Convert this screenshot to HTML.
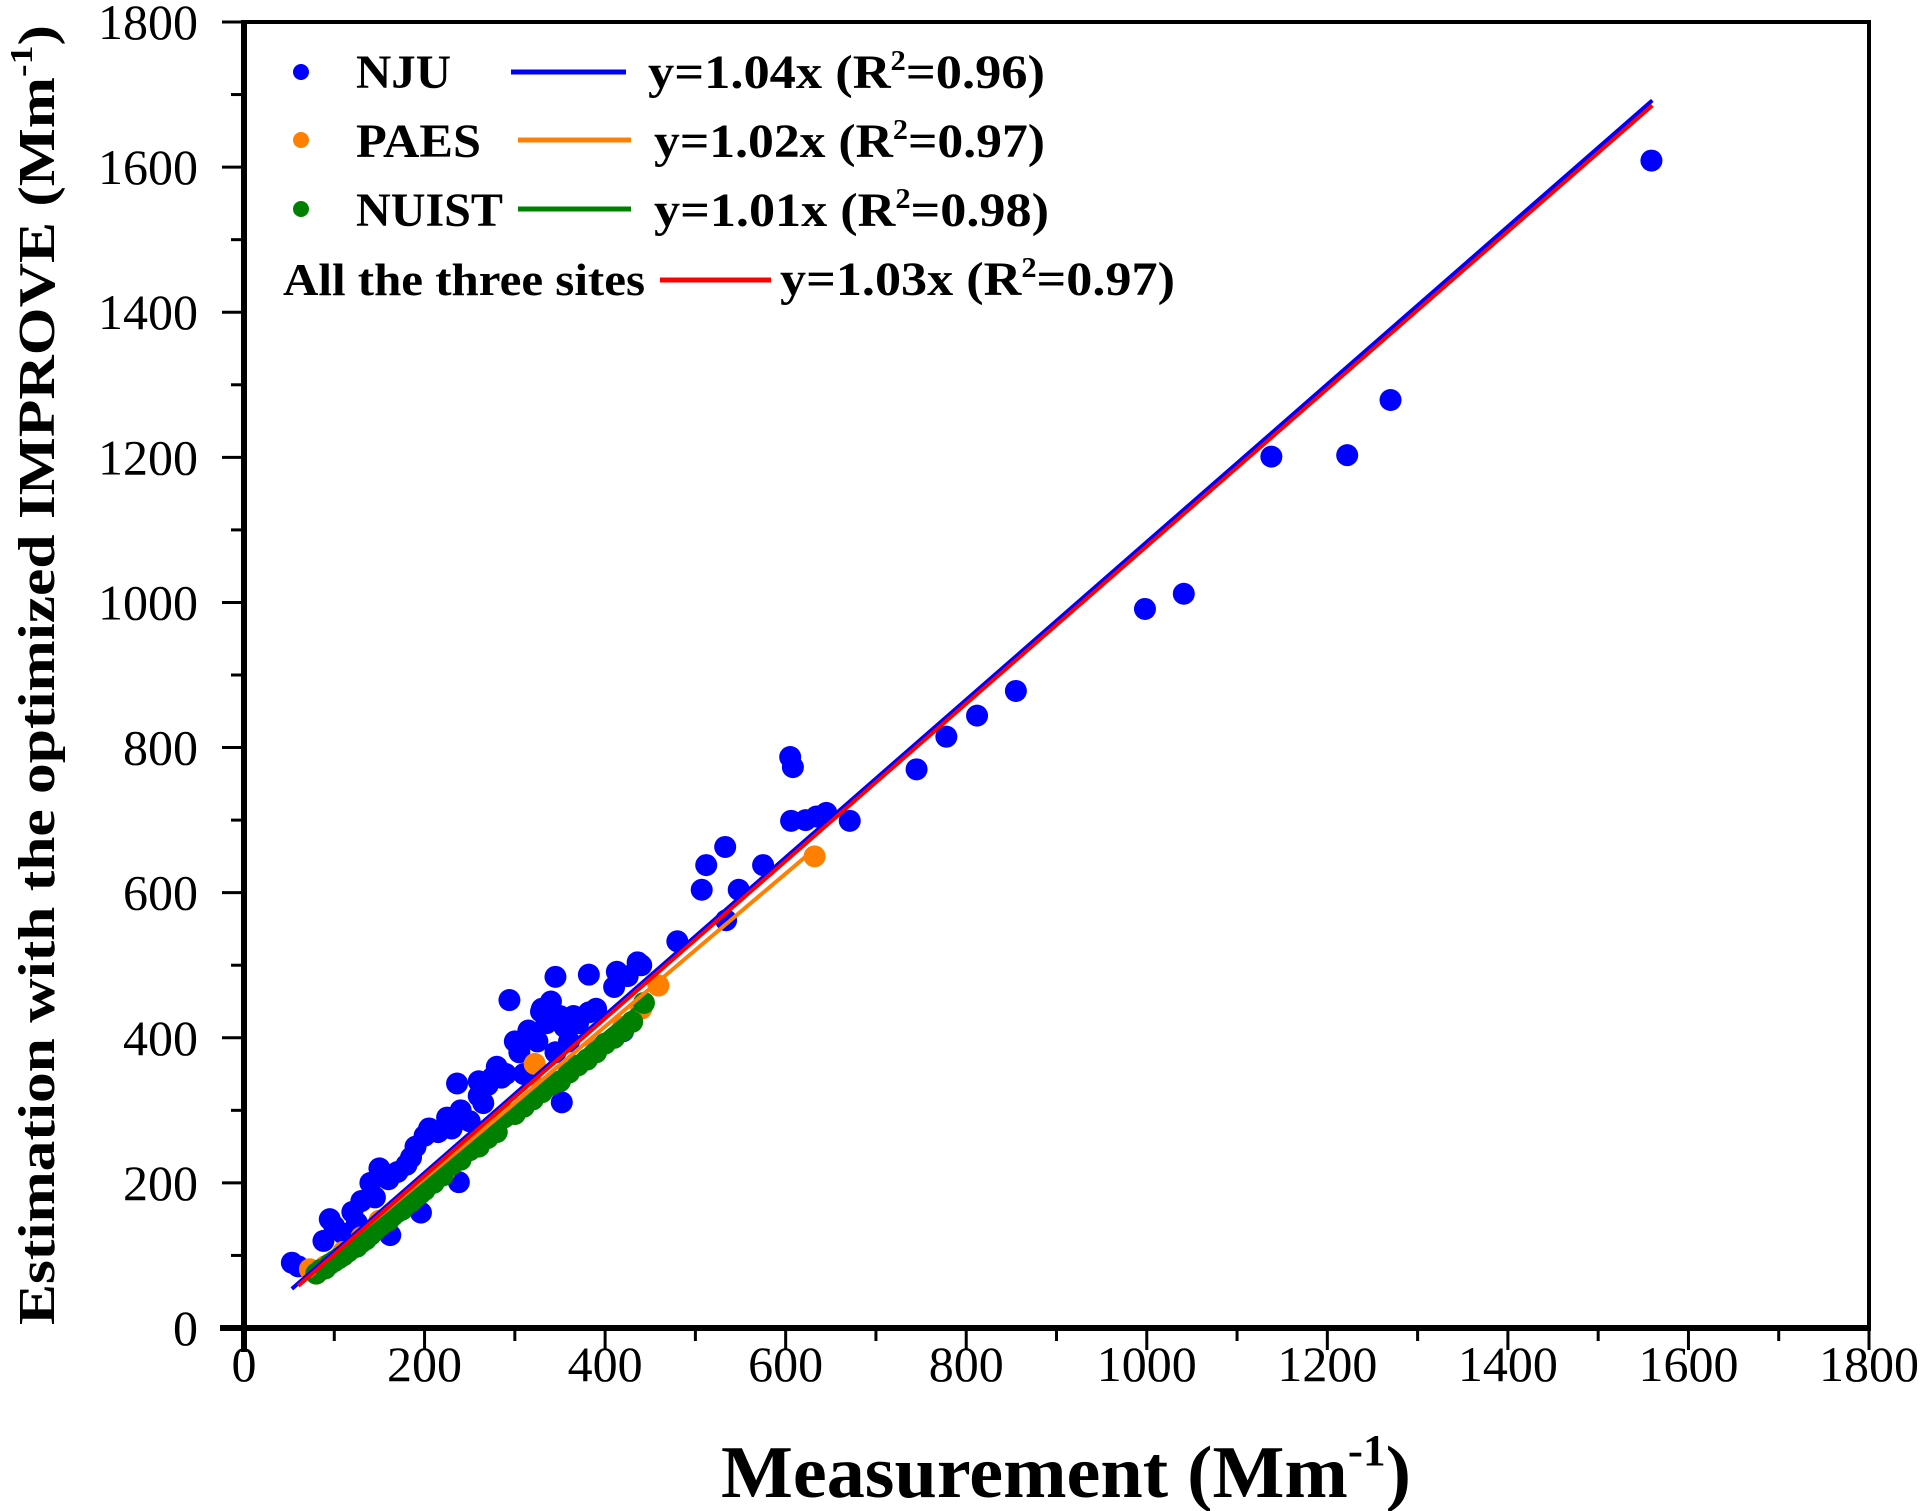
<!DOCTYPE html>
<html><head><meta charset="utf-8">
<style>
html,body{margin:0;padding:0;background:#fff;}
svg{display:block;}
text{font-family:"Liberation Serif","Times New Roman",serif;fill:#000;}
</style></head>
<body>
<svg id="chart" width="1924" height="1511" viewBox="0 0 1924 1511" xmlns="http://www.w3.org/2000/svg">
<g id="plot"></g>
<g id="axes"></g>
<text transform="translate(54,675) rotate(-90)" text-anchor="middle" font-weight="bold" font-size="52" textLength="1300" lengthAdjust="spacingAndGlyphs">Estimation with the optimized IMPROVE (Mm<tspan font-size="32" dy="-22">-1</tspan><tspan dy="22">)</tspan></text>
<text x="721" y="1497" font-weight="bold" font-size="74" textLength="690" lengthAdjust="spacingAndGlyphs">Measurement  (Mm<tspan font-size="44" dy="-32">-1</tspan><tspan dy="32">)</tspan></text>
<g id="legend">
  <g>
    <circle cx="301" cy="72" r="8" fill="#0000ff"/>
    <text x="356" y="88" font-size="48" font-weight="bold" textLength="95" lengthAdjust="spacingAndGlyphs">NJU</text>
    <line x1="511" y1="72" x2="626" y2="72" stroke="#0000ff" stroke-width="5"/>
    <text x="648" y="88" font-size="48" font-weight="bold" textLength="397" lengthAdjust="spacingAndGlyphs">y=1.04x (R<tspan font-size="28" dy="-18">2</tspan><tspan dy="18">=0.96)</tspan></text>
  </g>
  <g>
    <circle cx="301" cy="140" r="8" fill="#ff8000"/>
    <text x="356" y="157" font-size="48" font-weight="bold" textLength="125" lengthAdjust="spacingAndGlyphs">PAES</text>
    <line x1="518" y1="140" x2="631" y2="140" stroke="#ff8000" stroke-width="5"/>
    <text x="654" y="157" font-size="48" font-weight="bold" textLength="391" lengthAdjust="spacingAndGlyphs">y=1.02x (R<tspan font-size="28" dy="-18">2</tspan><tspan dy="18">=0.97)</tspan></text>
  </g>
  <g>
    <circle cx="301" cy="209" r="8" fill="#008000"/>
    <text x="356" y="226" font-size="48" font-weight="bold" textLength="147" lengthAdjust="spacingAndGlyphs">NUIST</text>
    <line x1="518" y1="209" x2="631" y2="209" stroke="#008000" stroke-width="5"/>
    <text x="654" y="226" font-size="48" font-weight="bold" textLength="395" lengthAdjust="spacingAndGlyphs">y=1.01x (R<tspan font-size="28" dy="-18">2</tspan><tspan dy="18">=0.98)</tspan></text>
  </g>
  <g>
    <text x="283" y="295" font-size="46" font-weight="bold" textLength="362" lengthAdjust="spacingAndGlyphs">All the three sites</text>
    <line x1="660" y1="280" x2="771" y2="280" stroke="#ff0000" stroke-width="5"/>
    <text x="780" y="295" font-size="48" font-weight="bold" textLength="395" lengthAdjust="spacingAndGlyphs">y=1.03x (R<tspan font-size="28" dy="-18">2</tspan><tspan dy="18">=0.97)</tspan></text>
  </g>
</g>
</svg>
<script>
const xTicks = [0,200,400,600,800,1000,1200,1400,1600,1800];
const yTicks = [0,200,400,600,800,1000,1200,1400,1600,1800];
const njuX = [53,1559,1270,1222,1138,1041,998,855,812,778,745,671,605,608,606,634,622,645,575,533,512,507,548,534,480,436,413,382,345,329,382,420,352,294,236,238,196,162,
  60,88,95,100,110,120,130,140,150,160,170,180,190,200,205,215,225,240,250,260,270,280,290,300,305,315,320,330,335,340,350,355,360,370,390,410,425,440,275,260,310,345,125,145,185,230,265,285,325,365];
const njuY = [90,1609,1279,1203,1201,1012,991,878,844,815,770,699,787,773,699,705,700,710,638,663,638,604,604,562,533,504,491,487,484,436,435,409,311,452,337,201,159,128,
  85,120,150,140,130,160,175,200,220,205,215,225,250,265,275,270,290,300,285,320,335,360,350,395,380,410,400,440,420,450,430,415,395,420,440,470,485,500,345,340,350,380,145,180,235,275,310,345,395,430];
const paesX = [632,459,322,222,73,80,90,110,130,150,170,200,240,270,300,330,360,390,420,440];
const paesY = [650,472,364,215,81,75,85,105,125,148,165,195,235,262,295,330,355,385,415,440];
const nuistX = [443,288,80,85,90,95,100,105,110,115,120,125,130,135,140,145,150,155,160,165,170,175,180,185,190,195,200,210,220,230,240,250,260,270,280,300,310,320,330,340,350,360,370,380,390,400,410,420,430];
const nuistY = [448,290,75,80,82,88,92,96,100,105,110,112,118,122,128,134,140,145,148,155,160,163,170,174,180,185,190,200,210,225,232,245,250,262,270,295,305,315,325,335,340,352,362,370,380,392,400,410,422];
const fitNames = ['nju','paes','nuist','all'];
const fitColors = ['#0000ff','#ff8000','#008000','#ff0000'];
const fitX0 = [53,73,80,60];
const fitY0 = [54,71,75,58];
const fitX1 = [1560,632,443,1560];
const fitY1 = [1692,660,450,1685];

const L=244,R=1869,T=22,B=1328;
const sx=v=>L+(v/1800)*(R-L);
const sy=v=>B-(v/1800)*(B-T);
const NS='http://www.w3.org/2000/svg';
const plot=document.getElementById('plot');
const axes=document.getElementById('axes');
function mk(tag,attrs,parent){const e=document.createElementNS(NS,tag);for(const k in attrs)e.setAttribute(k,attrs[k]);parent.appendChild(e);return e;}

function drawSeries(xs,ys,color,name){
  const g=mk('g',{},plot);
  
  
  for(let i=0;i<xs.length;i++){
    const c=mk('circle',{cx:sx(xs[i]),cy:sy(ys[i]),r:11,fill:color},g);
    
    
  }
}
drawSeries(njuX,njuY,'#0000ff','nju');
drawSeries(paesX,paesY,'#ff8000','paes');
drawSeries(nuistX,nuistY,'#008000','nuist');
const order=[1,2,0,3];
for(const i of order){
  const ln=mk('line',{x1:sx(fitX0[i]),y1:sy(fitY0[i]),x2:sx(fitX1[i]),y2:sy(fitY1[i]),stroke:fitColors[i],'stroke-width':4},plot);
  
  
}
const fr=mk('rect',{x:L,y:T,width:R-L,height:B-T,fill:'none',stroke:'#000','stroke-width':4},axes);


const xb=mk('line',{x1:L-24,y1:B,x2:R+2,y2:B,stroke:'#000','stroke-width':6},axes);


const yb=mk('line',{x1:L,y1:T-2,x2:L,y2:B+24,stroke:'#000','stroke-width':6},axes);


for(let i=0;i<xTicks.length;i++){
  const v=xTicks[i];
  const t=mk('line',{x1:sx(v),y1:B,x2:sx(v),y2:B+22,stroke:'#000','stroke-width':3},axes);
  
  
  if(i<xTicks.length-1){
    const m=mk('line',{x1:sx(v+100),y1:B,x2:sx(v+100),y2:B+13,stroke:'#000','stroke-width':3},axes);
    
    
  }
  const lb=mk('text',{x:sx(v),y:1381,'text-anchor':'middle','font-size':50},axes);
  lb.textContent=v;
  
  
}
for(let i=0;i<yTicks.length;i++){
  const v=yTicks[i];
  const t=mk('line',{x1:L-22,y1:sy(v),x2:L,y2:sy(v),stroke:'#000','stroke-width':3},axes);
  
  
  if(i<yTicks.length-1){
    const m=mk('line',{x1:L-13,y1:sy(v+100),x2:L,y2:sy(v+100),stroke:'#000','stroke-width':3},axes);
    
    
  }
  const lb=mk('text',{x:198,y:sy(v)+17,'text-anchor':'end','font-size':50},axes);
  lb.textContent=v;
  
  
}
</script>
</body></html>
